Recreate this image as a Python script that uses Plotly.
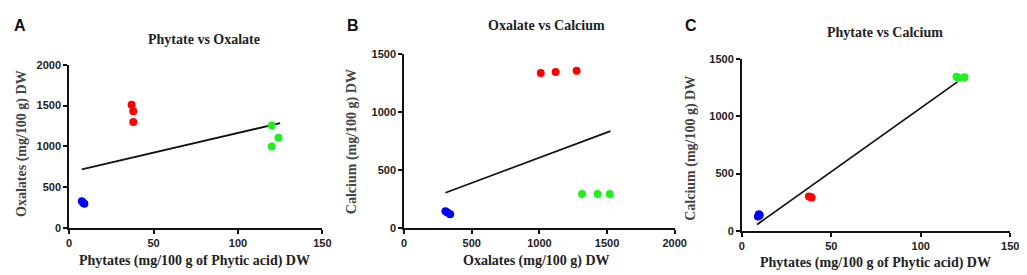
import plotly.graph_objects as go

W, H = 1027, 275

# ---- Panel A: Phytate vs Oxalate ----
a_red_x = [37, 38, 38]
a_red_y = [1510, 1430, 1300]
a_green_x = [120, 124, 120]
a_green_y = [1255, 1105, 1000]
a_blue_x = [7.5, 8.5, 9]
a_blue_y = [330, 310, 300]
a_fit_x = [7.5, 125]
a_fit_y = [720, 1285]

# ---- Panel B: Oxalate vs Calcium ----
b_red_x = [1010, 1120, 1275]
b_red_y = [1335, 1345, 1355]
b_green_x = [1315, 1430, 1520]
b_green_y = [295, 295, 295]
b_blue_x = [305, 320, 340]
b_blue_y = [145, 135, 120]
b_fit_x = [305, 1525]
b_fit_y = [305, 835]

# ---- Panel C: Phytate vs Calcium ----
c_red_x = [37.5, 38.5, 39]
c_red_y = [300, 295, 290]
c_green_x = [120, 121, 124.5]
c_green_y = [1345, 1335, 1340]
c_blue_x = [9.5, 9, 10]
c_blue_y = [145, 125, 135]
c_fit_x = [8.5, 120.5]
c_fit_y = [55, 1300]

RED, GREEN, BLUE = "#ff0000", "#22ee22", "#0000ff"

fig = go.Figure()

def add_panel(ax, red, green, blue, fit):
    xa = "x" if ax == 1 else f"x{ax}"
    ya = "y" if ax == 1 else f"y{ax}"
    fig.add_trace(go.Scatter(x=fit[0], y=fit[1], mode="lines",
                             line=dict(color="#111111", width=1.8),
                             xaxis=xa, yaxis=ya, showlegend=False))
    for (xs, ys), col in ((red, RED), (green, GREEN), (blue, BLUE)):
        fig.add_trace(go.Scatter(x=xs, y=ys, mode="markers",
                                 marker=dict(color=col, size=8, line=dict(width=0)),
                                 xaxis=xa, yaxis=ya, showlegend=False,
                                 cliponaxis=False))

add_panel(1, (a_red_x, a_red_y), (a_green_x, a_green_y), (a_blue_x, a_blue_y), (a_fit_x, a_fit_y))
add_panel(2, (b_red_x, b_red_y), (b_green_x, b_green_y), (b_blue_x, b_blue_y), (b_fit_x, b_fit_y))
add_panel(3, (c_red_x, c_red_y), (c_green_x, c_green_y), (c_blue_x, c_blue_y), (c_fit_x, c_fit_y))

tickfont = dict(family="Liberation Sans, Arial, sans-serif", size=11, color="#222222", weight="bold")

def ax(domain, rng, dtick, anchor):
    return dict(domain=domain, range=rng, dtick=dtick, tick0=0, anchor=anchor,
                showgrid=False, zeroline=False, showline=True, linecolor="#111111",
                linewidth=1.8, ticks="outside", ticklen=4, tickwidth=1.5,
                tickcolor="#111111", tickfont=tickfont, fixedrange=True)

def px(x0, x1):
    return [x0 / W, x1 / W]

def py(top, bottom):
    return [1 - bottom / H, 1 - top / H]

fig.update_layout(
    width=W, height=H, margin=dict(l=0, r=0, t=0, b=0),
    paper_bgcolor="white", plot_bgcolor="white",
    xaxis=ax(px(59, 316), [0, 150], 50, "y"),
    yaxis=ax(py(53, 224), [0, 2000], 500, "x"),
    xaxis2=ax(px(399, 673.5), [0, 2000], 500, "y2"),
    yaxis2=ax(py(41.7, 224), [0, 1500], 500, "x2"),
    xaxis3=ax(px(741.7, 1014), [0, 150], 50, "y3"),
    yaxis3=ax(py(47, 226.7), [0, 1500], 500, "x3"),
)

serif = "Liberation Serif, Times New Roman, serif"
anns = []
def ann(text, x, y, size, color="#222222", family=serif, angle=0, bold=True):
    anns.append(dict(text=text, x=x / W, y=1 - y / H, xref="paper", yref="paper",
                     showarrow=False, textangle=angle, xanchor="center", yanchor="middle",
                     font=dict(family=family, size=size, color=color,
                               weight="bold" if bold else "normal")))

sans = "Liberation Sans, Arial, sans-serif"
ann("A", 9, 12, 16, "#111111", sans)
ann("B", 347, 12, 16, "#111111", sans)
ann("C", 690, 12, 16, "#111111", sans)

ann("Phytate vs Oxalate", 196, 27, 14)
ann("Oxalate vs Calcium", 543, 12, 14)
ann("Phytate vs Calcium", 887, 19, 14)

ann("Oxalates (mg/100 g) DW", 11, 135, 14, "#444444", angle=-90)
ann("Calcium (mg/100 g) DW", 346, 133, 14, "#444444", angle=-90)
ann("Calcium (mg/100 g) DW", 690, 140, 14, "#444444", angle=-90)

ann("Phytates (mg/100 g of Phytic acid) DW", 186, 258, 14)
ann("Oxalates (mg/100 g) DW", 533, 258, 14)
ann("Phytates (mg/100 g of Phytic acid) DW", 877, 260, 14)

fig.update_layout(annotations=anns)

fig.write_html("out.html")
